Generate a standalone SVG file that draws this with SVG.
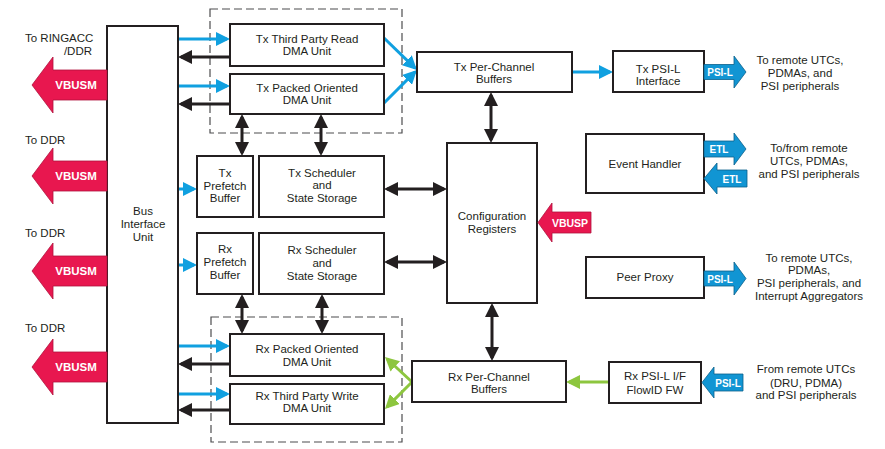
<svg xmlns="http://www.w3.org/2000/svg" width="885" height="449" viewBox="0 0 885 449">
<style>
.box{fill:#fff;stroke:#231f20;stroke-width:2}
.dash{fill:none;stroke:#4d4d4f;stroke-width:1.2;stroke-dasharray:8 4}
.t{font-family:"Liberation Sans",Arial,sans-serif;font-size:11.5px;fill:#231f20;text-anchor:middle}
.tl{font-family:"Liberation Sans",Arial,sans-serif;font-size:11.5px;fill:#231f20}
.w{font-family:"Liberation Sans",Arial,sans-serif;font-weight:bold;fill:#fff;text-anchor:middle}
.red{fill:#e8174f;stroke:#b0123c;stroke-width:0.8}
.blu{fill:#1195d3;stroke:#0a5f8a;stroke-width:0.8}
.cb{fill:none;stroke:#10a0e0;stroke-width:3}
.ck{fill:none;stroke:#231f20;stroke-width:3}
.cg{fill:none;stroke:#8dc63f;stroke-width:3}
</style>
<defs>
<marker id="ab" markerUnits="userSpaceOnUse" markerWidth="14" markerHeight="14" viewBox="0 0 14 14" refX="11" refY="7" orient="auto-start-reverse"><path d="M0,0 L14,7 L0,14 z" fill="#10a0e0"/></marker>
<marker id="ak" markerUnits="userSpaceOnUse" markerWidth="14" markerHeight="14" viewBox="0 0 14 14" refX="11" refY="7" orient="auto-start-reverse"><path d="M0,0 L14,7 L0,14 z" fill="#231f20"/></marker>
<marker id="ag" markerUnits="userSpaceOnUse" markerWidth="14" markerHeight="14" viewBox="0 0 14 14" refX="11" refY="7" orient="auto-start-reverse"><path d="M0,0 L14,7 L0,14 z" fill="#8dc63f"/></marker>
</defs>

<rect class="dash" x="210" y="9" width="192" height="124"/>
<rect class="dash" x="211" y="317" width="191" height="125"/>

<g id="connectors">
<path class="cb" d="M178,39 H227" marker-end="url(#ab)"/>
<path class="cb" d="M178,86 H227" marker-end="url(#ab)"/>
<path class="cb" d="M178,346 H227" marker-end="url(#ab)"/>
<path class="cb" d="M178,394 H227" marker-end="url(#ab)"/>
<path class="ck" d="M230,57 H181" marker-end="url(#ak)"/>
<path class="ck" d="M230,104 H181" marker-end="url(#ak)"/>
<path class="ck" d="M230,364 H181" marker-end="url(#ak)"/>
<path class="ck" d="M230,410 H181" marker-end="url(#ak)"/>
<path class="cb" d="M178,189 H194" marker-end="url(#ab)"/>
<path class="cb" d="M178,265 H194" marker-end="url(#ab)"/>
<path class="cb" d="M384,38 L414.8,67.9" marker-end="url(#ab)"/>
<path class="cb" d="M384,103 L414.8,72.1" marker-end="url(#ab)"/>
<path class="cb" d="M572,72 H610" marker-end="url(#ab)"/>
<path class="ck" d="M242,117 V153" marker-start="url(#ak)" marker-end="url(#ak)"/>
<path class="ck" d="M321,117 V153" marker-start="url(#ak)" marker-end="url(#ak)"/>
<path class="ck" d="M242,297 V331" marker-start="url(#ak)" marker-end="url(#ak)"/>
<path class="ck" d="M322,297 V331" marker-start="url(#ak)" marker-end="url(#ak)"/>
<path class="ck" d="M491,95 V140" marker-start="url(#ak)" marker-end="url(#ak)"/>
<path class="ck" d="M492,306 V358" marker-start="url(#ak)" marker-end="url(#ak)"/>
<path class="ck" d="M387,189 H444" marker-start="url(#ak)" marker-end="url(#ak)"/>
<path class="ck" d="M387,262 H444" marker-start="url(#ak)" marker-end="url(#ak)"/>
<path class="cg" d="M609,382 H569" marker-end="url(#ag)"/>
<path class="cg" d="M412,382 L387.2,359" marker-end="url(#ag)"/>
<path class="cg" d="M412,382 L387.1,406.9" marker-end="url(#ag)"/>
</g>

<g id="bus">
<rect class="box" x="107" y="26" width="71" height="397"/>
<text class="t" x="143" y="215">Bus</text>
<text class="t" x="143" y="228">Interface</text>
<text class="t" x="143" y="241">Unit</text>
</g>

<g id="vbusm1">
<text class="tl" x="25" y="42">To RINGACC</text>
<text class="tl" x="92" y="55" text-anchor="end">/DDR</text>
<polygon class="red" points="32,85 53,57 53,70 107,70 107,100 53,100 53,113"/>
<text class="w" x="76" y="89" font-size="11.5">VBUSM</text>
</g>
<g id="vbusm2">
<text class="tl" x="25" y="144">To DDR</text>
<polygon class="red" points="32,176 53,148 53,161 107,161 107,191 53,191 53,204"/>
<text class="w" x="76" y="180" font-size="11.5">VBUSM</text>
</g>
<g id="vbusm3">
<text class="tl" x="25" y="237">To DDR</text>
<polygon class="red" points="32,271 53,243 53,256 107,256 107,286 53,286 53,299"/>
<text class="w" x="76" y="275" font-size="11.5">VBUSM</text>
</g>
<g id="vbusm4">
<text class="tl" x="25" y="332">To DDR</text>
<polygon class="red" points="32,367 53,339 53,352 107,352 107,382 53,382 53,395"/>
<text class="w" x="76" y="371" font-size="11.5">VBUSM</text>
</g>

<g id="txRead">
<rect class="box" x="230" y="24" width="154" height="42"/>
<text class="t" x="307" y="43">Tx Third Party Read</text>
<text class="t" x="307" y="55">DMA Unit</text>
</g>
<g id="txPacked">
<rect class="box" x="230" y="74" width="154" height="40"/>
<text class="t" x="307" y="92">Tx Packed Oriented</text>
<text class="t" x="307" y="104">DMA Unit</text>
</g>
<g id="txPrefetch">
<rect class="box" x="197" y="156" width="56" height="61"/>
<text class="t" x="225" y="177">Tx</text>
<text class="t" x="225" y="190">Prefetch</text>
<text class="t" x="225" y="202">Buffer</text>
</g>
<g id="txSched">
<rect class="box" x="259" y="156" width="125" height="61"/>
<text class="t" x="322" y="177">Tx Scheduler</text>
<text class="t" x="322" y="189">and</text>
<text class="t" x="322" y="202">State Storage</text>
</g>
<g id="rxPrefetch">
<rect class="box" x="197" y="233" width="56" height="61"/>
<text class="t" x="225" y="253">Rx</text>
<text class="t" x="225" y="266">Prefetch</text>
<text class="t" x="225" y="279">Buffer</text>
</g>
<g id="rxSched">
<rect class="box" x="259" y="233" width="125" height="61"/>
<text class="t" x="322" y="254">Rx Scheduler</text>
<text class="t" x="322" y="267">and</text>
<text class="t" x="322" y="280">State Storage</text>
</g>
<g id="rxPacked">
<rect class="box" x="230" y="334" width="154" height="42"/>
<text class="t" x="307" y="353">Rx Packed Oriented</text>
<text class="t" x="307" y="366">DMA Unit</text>
</g>
<g id="rxWrite">
<rect class="box" x="230" y="384" width="154" height="40"/>
<text class="t" x="307" y="400">Rx Third Party Write</text>
<text class="t" x="307" y="412">DMA Unit</text>
</g>

<g id="txPerCh">
<rect class="box" x="417" y="52" width="155" height="40"/>
<text class="t" x="494" y="71">Tx Per-Channel</text>
<text class="t" x="494" y="83">Buffers</text>
</g>
<g id="config">
<rect class="box" x="447" y="143" width="90" height="160"/>
<text class="t" x="492" y="220">Configuration</text>
<text class="t" x="492" y="233">Registers</text>
</g>
<g id="vbusp">
<polygon class="red" points="538,222.5 552,203 552,212 591,212 591,233 552,233 552,242"/>
<text class="w" x="570" y="226.5" font-size="10.5">VBUSP</text>
</g>
<g id="rxPerCh">
<rect class="box" x="412" y="361" width="154" height="41"/>
<text class="t" x="489" y="381">Rx Per-Channel</text>
<text class="t" x="489" y="393">Buffers</text>
</g>

<g id="txPsil">
<rect class="box" x="613" y="51" width="91" height="41"/>
<text class="t" x="658" y="73">Tx PSI-L</text>
<text class="t" x="658" y="85">Interface</text>
<polygon class="blu" points="704,64.5 734,64.5 734,56 746,72 734,88 734,79.5 704,79.5"/>
<text class="w" x="720" y="76" font-size="10">PSI-L</text>
<text class="t" x="800" y="64">To remote UTCs,</text>
<text class="t" x="800" y="77">PDMAs, and</text>
<text class="t" x="800" y="90">PSI peripherals</text>
</g>

<g id="eventHandler">
<rect class="box" x="586" y="134" width="118" height="59"/>
<text class="t" x="645" y="168">Event Handler</text>
<polygon class="blu" points="704,141 734,141 734,133 746,149 734,165 734,157 704,157"/>
<text class="w" x="719" y="153" font-size="10">ETL</text>
<polygon class="blu" points="704,178.5 717,163 717,170 747,170 747,187 717,187 717,194"/>
<text class="w" x="732" y="182.5" font-size="10">ETL</text>
<text class="t" x="809" y="152">To/from remote</text>
<text class="t" x="809" y="165">UTCs, PDMAs,</text>
<text class="t" x="809" y="178">and PSI peripherals</text>
</g>

<g id="peerProxy">
<rect class="box" x="586" y="257" width="118" height="41"/>
<text class="t" x="645" y="281">Peer Proxy</text>
<polygon class="blu" points="704,271 734,271 734,262 746,278.5 734,295 734,286 704,286"/>
<text class="w" x="720" y="282.5" font-size="10">PSI-L</text>
<text class="t" x="809" y="262">To remote UTCs,</text>
<text class="t" x="809" y="274">PDMAs,</text>
<text class="t" x="809" y="287">PSI peripherals, and</text>
<text class="t" x="809" y="300">Interrupt Aggregators</text>
</g>

<g id="rxPsil">
<rect class="box" x="609" y="362" width="92" height="41"/>
<text class="t" x="655" y="380">Rx PSI-L I/F</text>
<text class="t" x="655" y="394">FlowID FW</text>
<polygon class="blu" points="702,382.5 714,367 714,374 743,374 743,391 714,391 714,398"/>
<text class="w" x="728" y="386.5" font-size="10">PSI-L</text>
<text class="t" x="806" y="373">From remote UTCs</text>
<text class="t" x="806" y="387">(DRU, PDMA)</text>
<text class="t" x="806" y="399">and PSI peripherals</text>
</g>
</svg>
